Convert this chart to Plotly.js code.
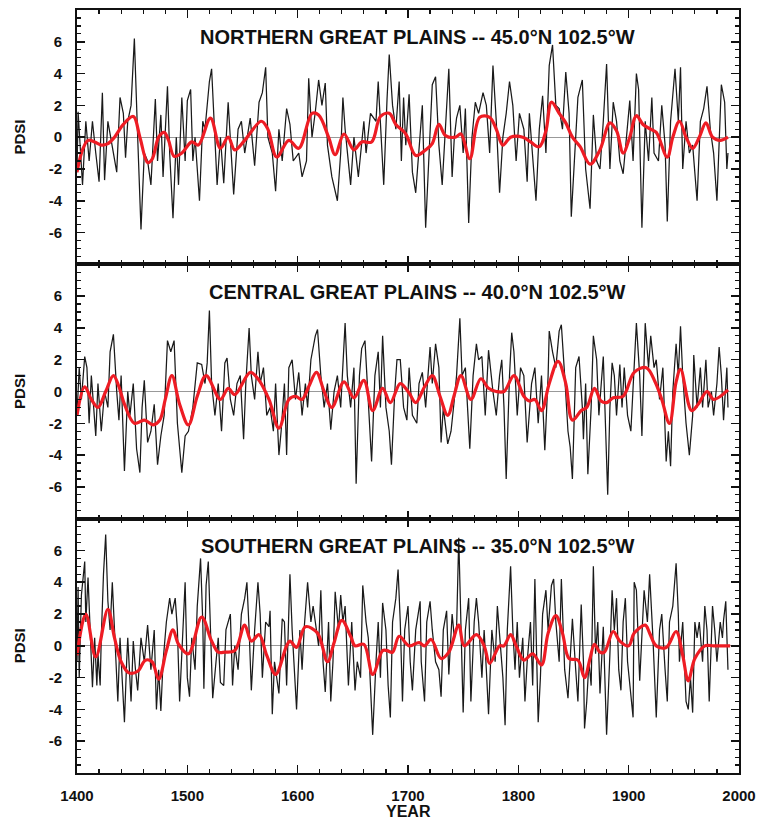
<!DOCTYPE html>
<html>
<head>
<meta charset="utf-8">
<script src="https://cdn.plot.ly/plotly-3.0.1.min.js"></script>
<style>html,body{margin:0;padding:0;background:#fff;}#chart{width:766px;height:825px;}</style>
</head>
<body>
<div id="chart"></div>
<script>
// ---------------- DATA ----------------
const panelTitles = [
  "NORTHERN GREAT PLAINS -- 45.0°N 102.5°W",
  "CENTRAL GREAT PLAINS -- 40.0°N 102.5°W",
  "SOUTHERN GREAT PLAINS -- 35.0°N 102.5°W"
];
const yTickVals = [-6, -4, -2, 0, 2, 4, 6];
const yTickText = ["-6", "-4", "-2", "0", "2", "4", "6"];
const xTickVals = [1400, 1500, 1600, 1700, 1800, 1900, 2000];
const xTickText = ["1400", "1500", "1600", "1700", "1800", "1900", "2000"];

// Northern Great Plains: annual PDSI (peaks / troughs)
const northYears = [1400,1401,1405,1408,1411,1414,1417,1420,1423,1425,1428,1433,1436,1439,1442,1444,1446,1449,1452,1455,1458,1461,1464,1467,1471,1473,1476,1478,1482,1484,1487,1490,1492,1495,1498,1500,1503,1505,1507,1511,1514,1516,1520,1522,1525,1527,1530,1533,1537,1542,1546,1549,1552,1557,1561,1565,1568,1571,1573,1577,1580,1583,1586,1590,1593,1596,1601,1604,1608,1610,1613,1616,1619,1622,1625,1627,1631,1636,1639,1641,1643,1648,1651,1655,1660,1662,1666,1671,1673,1675,1678,1681,1683,1686,1689,1692,1694,1696,1698,1701,1704,1707,1710,1713,1716,1719,1722,1725,1728,1731,1734,1737,1740,1742,1744,1747,1750,1752,1755,1758,1761,1764,1768,1771,1774,1777,1780,1783,1786,1789,1792,1795,1798,1801,1805,1808,1810,1813,1816,1819,1822,1825,1828,1831,1834,1837,1840,1843,1846,1848,1851,1854,1858,1861,1865,1868,1871,1874,1877,1880,1883,1886,1889,1892,1895,1898,1901,1904,1907,1909,1912,1915,1918,1921,1923,1927,1930,1933,1935,1938,1942,1945,1947,1949,1952,1955,1958,1962,1965,1968,1971,1974,1977,1980,1983,1984,1987,1989,1990];
const northPdsi = [-2.2,1.6,-3,1,-1.5,1,-1,-2.8,2.8,-2.7,1,-1,-2.2,2.5,1.5,-1.3,1,2,6.2,0,-5.8,-1,-1.5,-3,2.4,-1.5,1.4,-2.5,3.2,-1,-5.1,0,-3,2.5,-1.5,2.3,3,-1.5,0,-4,1,0.5,3.5,4.3,0,-3,0,-2.9,2.2,-3.6,0.5,1,-1,1.2,-1.8,2.2,2.8,4.4,0,-1,-3.4,0.5,-1.5,1.8,0.8,-1.5,-1,-2.5,-1.5,3.7,0,1.6,3.6,2,3.4,-0.5,-2.5,-4,-1,2.5,0.5,-3,0,-2.5,1,-1,1.5,1,3.5,1,-3,2.4,5.2,2,0.5,3.5,-1.5,2.5,-0.5,2.7,-2.2,-3.5,-1,2,-5.7,-1,3.3,3.8,-0.5,-3,1,4.3,-2.5,0,1.2,2,-1,1.8,-5.4,0,2.2,1.5,2.8,2,-1,4.5,1,-3.5,0,1.5,3.5,2,-1.5,1.5,0.5,-2.8,1.5,-1,-4,0.5,2.6,-1,4.5,5.8,2,1.8,0.5,4.1,1.5,-5,-1,2.5,3.6,-2,-4.5,1.4,-1.5,-2,1,4.6,-2,2.2,1,-1.5,-2.3,0,2.3,-1.5,4,3,-5.7,1,-1.5,2.5,-1,-1.5,2,-0.5,-5.3,1,4.3,1,4.4,-2,1,-1,-0.5,-4,1,1.8,3.2,0.5,-1,-4,2,3.3,2.2,-2,-1];
const northSmoothYears = [1400,1405,1410,1416,1422,1428,1434,1442,1451,1457,1464,1468,1474,1479,1483,1488,1495,1504,1510,1521,1530,1537,1543,1552,1567,1573,1581,1592,1601,1613,1619,1628,1634,1642,1651,1658,1667,1675,1683,1689,1698,1707,1716,1722,1728,1734,1743,1748,1756,1765,1774,1780,1786,1793,1804,1811,1819,1825,1830,1837,1843,1849,1856,1865,1874,1883,1889,1895,1901,1907,1913,1920,1925,1935,1940,1946,1952,1958,1964,1970,1976,1983,1990];
const northSmooth = [-2.2,-0.8,-0.2,-0.3,-0.5,-0.4,0,0.8,1.3,0,-1.6,-1.4,0,0.3,-0.2,-1.2,-1.0,-0.3,-0.5,1.2,-0.7,0,-0.8,-0.2,1.0,0.5,-1.25,-0.2,-0.7,1.5,1.4,0,-1.1,0.2,-0.8,-0.3,-0.3,1.3,1.5,0.8,0.2,-1.15,-0.8,-0.4,0.8,0.1,0,0.2,-1.35,1.25,1.25,0.5,-0.5,0,0,-0.3,-0.6,0.4,2.2,1.5,0.9,0,-0.6,-1.7,-0.8,0.9,0.4,-1.0,0,1.35,0.8,0.5,0.3,-1.25,0,1.0,0,-0.7,0,0.9,0,-0.2,0];

// Central Great Plains
const centralYears = [1400,1402,1404,1407,1409,1411,1413,1415,1417,1419,1422,1425,1428,1430,1433,1436,1438,1440,1443,1446,1448,1451,1454,1457,1459,1461,1464,1467,1470,1473,1476,1479,1482,1485,1488,1491,1495,1498,1501,1505,1509,1513,1516,1518,1520,1522,1525,1528,1531,1534,1536,1539,1542,1545,1548,1551,1553,1556,1558,1561,1564,1566,1569,1572,1575,1578,1580,1583,1585,1588,1590,1592,1595,1598,1601,1604,1607,1609,1612,1616,1618,1621,1624,1627,1630,1633,1636,1639,1643,1645,1648,1651,1653,1656,1658,1661,1664,1667,1670,1673,1675,1677,1680,1683,1685,1688,1690,1693,1696,1699,1701,1704,1708,1710,1713,1716,1720,1722,1725,1728,1730,1732,1736,1739,1742,1744,1747,1749,1752,1756,1759,1762,1764,1767,1770,1773,1777,1780,1783,1785,1787,1789,1792,1794,1796,1799,1802,1805,1808,1812,1815,1818,1821,1824,1827,1828,1831,1834,1837,1839,1842,1845,1847,1849,1852,1855,1858,1859,1861,1863,1866,1868,1871,1873,1877,1879,1881,1883,1885,1887,1889,1892,1894,1896,1899,1902,1905,1907,1910,1912,1915,1918,1920,1923,1925,1928,1931,1934,1936,1938,1940,1943,1945,1947,1949,1952,1955,1958,1959,1962,1965,1967,1970,1972,1975,1977,1980,1982,1984,1986,1989,1990];
const centralPdsi = [-1.5,1.5,-0.5,2.2,1.5,-2,1,-1,-2.8,0.5,-2.5,0,-1,2.5,3.6,0,-1.8,1,-5,0,-1.5,0.5,-3.6,-5.1,-1,0.7,-3.2,-2.5,-0.8,-4.6,-2.8,-1.5,3.2,2.5,3.2,-2,-5.1,-2.8,-2.5,-1,1.8,1.7,0.5,1.8,5.1,0.5,-1.5,0.5,-2.5,1.8,2.1,-0.5,-1.5,0.5,1,-3,0.5,4,1,-0.5,2.5,0.5,1.5,-1.5,-1,-2.5,0.5,-4,-2.5,0.5,-4,1.5,2,-0.5,1.2,-1.5,0.5,-1,2,3.5,3.9,1,-1,0.5,-2.4,0,1,-1,4.3,1,-1,1.5,-5.8,1,2.7,3.2,-1,-4.4,1,2.5,-1,3.5,-1,-2.5,-4.6,0,2,2,-1,-1.8,1.5,-1.5,-2,0.5,1.2,-1,2.8,0.5,3,1.5,-3.2,-1,-3.3,-2.5,-0.5,1,4.6,1,1.5,-3.6,1,3,2,2.2,-1.5,2.6,0,-1.5,1,2,-1,-5.5,1,3.7,2.5,-1.5,1.5,1,-3.2,0.5,1.5,-2,1,-3.7,1,3.8,2.5,1.5,3.8,4.2,1,-2.5,-3.5,-5.5,1.5,2.2,-1,-3,0.5,-5.2,-1,3.5,2,-1.5,2.2,-2,-6.5,-1,1.8,1,-1.5,1.7,-1,1.5,-1.5,-2.5,1.5,4.3,1,-2.8,4.3,1.5,3.5,1.5,2,-0.5,1.5,-4.4,-2.5,-4.7,0,3,1,4.1,1,-2,-4,-1.5,2.3,-1,1.5,-1,2,-1,0,-1.5,0.5,2.8,1,-1.8,1.5,-1];
const centralSmoothYears = [1400,1407,1413,1419,1426,1433,1438,1443,1452,1461,1469,1475,1480,1486,1493,1501,1509,1517,1530,1537,1543,1557,1564,1574,1583,1592,1598,1604,1610,1617,1624,1631,1642,1651,1660,1668,1677,1684,1693,1701,1707,1715,1722,1729,1736,1742,1748,1757,1766,1773,1780,1787,1796,1805,1810,1815,1821,1828,1836,1843,1849,1857,1862,1869,1875,1880,1886,1895,1905,1916,1924,1930,1937,1943,1947,1957,1963,1971,1977,1990];
const centralSmooth = [-1.5,0.3,-0.5,-1.0,0,1.0,0.3,-0.8,-2.0,-1.8,-2.1,-1.8,-0.5,1.0,-0.8,-2.1,-0.3,1.0,-0.5,0.2,-0.2,1.2,0.8,-0.5,-2.3,-0.5,-0.3,-0.5,0.3,1.2,0,-1.0,0.6,-0.4,0.7,-1.2,0.2,-0.7,0.5,-0.1,-0.7,0.3,1.0,-0.3,-1.5,-0.2,1.0,-0.5,0.8,0.2,0,0,1.0,-0.3,-0.6,-0.5,-1.2,0.5,1.9,0.5,-1.8,-1.2,-1.0,0.2,-0.6,-0.7,-0.4,-0.3,1.2,1.5,0.6,-0.5,-2.0,0.6,1.4,-1.2,-0.8,0,-0.5,0.1];

// Southern Great Plains
const southYears = [1400,1401,1402,1404,1407,1408,1410,1411,1413,1414,1416,1418,1419,1421,1422,1424,1426,1428,1430,1432,1434,1437,1439,1440,1443,1445,1446,1449,1451,1453,1455,1458,1461,1464,1467,1470,1472,1474,1476,1478,1481,1484,1486,1489,1491,1493,1496,1498,1500,1502,1504,1507,1509,1512,1514,1515,1517,1519,1521,1523,1526,1528,1530,1533,1535,1539,1541,1543,1546,1549,1552,1554,1556,1558,1561,1564,1566,1568,1571,1574,1575,1577,1579,1581,1583,1586,1588,1590,1593,1595,1597,1599,1602,1604,1606,1609,1612,1614,1616,1619,1621,1623,1625,1628,1630,1632,1634,1637,1639,1641,1643,1646,1649,1652,1654,1657,1659,1662,1664,1666,1668,1671,1673,1675,1677,1680,1682,1684,1686,1689,1691,1693,1695,1697,1700,1702,1704,1707,1711,1712,1715,1717,1720,1722,1725,1728,1730,1732,1735,1737,1740,1742,1744,1746,1748,1750,1752,1755,1757,1760,1762,1764,1767,1769,1771,1773,1776,1779,1781,1783,1786,1788,1790,1793,1795,1797,1799,1801,1804,1806,1808,1811,1813,1815,1818,1820,1822,1825,1827,1830,1832,1834,1837,1839,1842,1845,1847,1849,1852,1854,1857,1859,1860,1862,1864,1866,1868,1870,1872,1874,1877,1878,1880,1883,1885,1887,1889,1891,1893,1895,1897,1899,1901,1904,1905,1907,1910,1912,1914,1917,1919,1922,1923,1925,1928,1930,1933,1935,1937,1940,1943,1945,1946,1949,1952,1954,1956,1958,1960,1962,1964,1967,1969,1971,1973,1976,1978,1980,1983,1985,1986,1988,1990];
const southPdsi = [-1,3.7,-2,3.2,5.3,1.5,4.3,2.5,-1.5,-2.6,0.5,-2.5,-0.5,-2.5,0.5,4.5,7,2.8,1,4,1,-3.5,0.5,-1,-4.8,-1,0.5,-3.5,0.3,-1.5,-2.8,0.5,-1,1.3,-1.5,1,-4,-1.5,-4.1,-1,1.5,3,2,3,1,-3.5,1.5,4,-2,-3.2,0.5,-1.5,2.5,5.5,1.5,-2.7,3.8,5.3,1,-3.3,-1,0.5,-2.3,-2.5,1,2,-2.5,0,-1.5,2,3,4,1,-2.8,1,4,2,-2,1.5,1.2,2.2,-4.3,-1,-2,-3,1.7,1.5,-2.5,4.5,1,-1.5,-4,1,-1.5,1.2,4,1.5,2.5,1.5,0,3.5,-1,-2.9,1.5,-3.5,-1,3.4,1,3.2,1.5,2.5,-2.5,1.5,-2.8,-1,-2,3.8,1.5,0.5,-2.5,-5.6,-1,1.5,-2,2.7,1,-2.5,-4.5,1.5,3,4.8,1.5,-3.5,1,2.5,-1,-2.8,1,2.8,-1,-3.5,1.5,2.8,1,-1,-1.5,-3.2,1,2.2,-1.8,2,0.5,1,6.8,1.5,-4.2,1,3,-3.5,1.5,3,1.5,-2,1,-1.5,-4.3,1,-1,2.5,0.5,-2,-5,1,5,1,-1.5,1.5,-2,0.5,-3.5,-1,1.5,-2.5,4.2,-4.8,-2,2,3.5,1,3.8,4.2,1.5,-1,4.2,-1.5,-3.3,-1,1.7,-1.5,-3.5,2.6,-1,-5.2,-3.5,-1,-2.5,5,-0.5,1.5,-3,1.2,-1,-5.6,-0.5,3.5,1,3,-1.5,-2.8,1.5,3,-1,-2.5,-4.5,4,3.5,-2.2,1,3.5,1.5,4.5,0.5,-1,-4.5,1,2,-1.5,-3.5,1.5,2.5,5.2,2,-1,1.5,-3.5,-4,-2,-4.2,1.5,0.5,1.5,-1,2.5,1,-3.5,2.5,1,-1,1.5,0.5,1.6,2.8,-1.5];
const southSmoothYears = [1400,1408,1417,1428,1434,1440,1447,1455,1462,1468,1474,1481,1487,1492,1501,1513,1522,1528,1534,1543,1552,1558,1565,1572,1580,1590,1593,1599,1607,1618,1627,1633,1640,1648,1652,1660,1668,1677,1681,1686,1692,1701,1710,1715,1721,1730,1737,1746,1751,1762,1769,1774,1783,1787,1793,1798,1805,1813,1821,1827,1834,1840,1846,1854,1860,1865,1869,1874,1878,1886,1892,1900,1905,1915,1919,1925,1934,1943,1949,1954,1960,1969,1977,1992];
const southSmooth = [-0.6,2.0,-0.7,2.3,0.5,-1.0,-1.7,-1.6,-0.9,-1.0,-2.1,-0.3,1.0,0.1,-0.5,1.8,0.3,-0.4,-0.4,-0.3,1.3,0.3,0.7,-0.6,-1.8,0,0.3,-0.1,1.2,0.8,-1.0,0.2,1.6,0.6,0,0.1,-1.8,-0.3,-0.3,-0.4,0.6,0,0.2,0,0.4,-0.8,-0.4,1.3,0,0.7,0,-1.1,0,0,0.7,0,-0.9,-0.5,-1.2,0.8,1.9,0.8,-0.8,-0.9,-2.0,-0.8,0.1,-0.4,-0.4,0.9,0.3,0,0.8,1.3,0.8,0,-0.1,0.9,-0.6,-2.2,-0.8,0,0,0];

// ---------------- CHART ----------------
const FONT = "Liberation Sans, Arial, Helvetica, sans-serif";
const annual = [[northYears, northPdsi], [centralYears, centralPdsi], [southYears, southPdsi]];
const smooth = [[northSmoothYears, northSmooth], [centralSmoothYears, centralSmooth], [southSmoothYears, southSmooth]];

const traces = [];
for (let i = 0; i < 3; i++) {
  const ax = i === 0 ? '' : String(i + 1);
  traces.push({
    type: 'scatter', mode: 'lines', x: annual[i][0], y: annual[i][1],
    xaxis: 'x' + ax, yaxis: 'y' + ax,
    line: {color: '#1a1a1a', width: 1.25}, hoverinfo: 'skip', showlegend: false
  });
  traces.push({
    type: 'scatter', mode: 'lines', x: smooth[i][0], y: smooth[i][1],
    xaxis: 'x' + ax, yaxis: 'y' + ax,
    line: {color: '#ee1c24', width: 3.2, shape: 'spline', smoothing: 1}, hoverinfo: 'skip', showlegend: false
  });
}

const domains = [[2/3, 1], [1/3, 2/3], [0, 1/3]];
const layout = {
  width: 766, height: 825,
  margin: {l: 77, r: 27, t: 10, b: 52},
  paper_bgcolor: '#ffffff', plot_bgcolor: '#ffffff',
  font: {family: FONT, color: '#111'},
  showlegend: false,
  annotations: []
};
for (let i = 0; i < 3; i++) {
  const ax = i === 0 ? '' : String(i + 1);
  layout['xaxis' + ax] = {
    domain: [0, 1], anchor: 'y' + ax, range: [1400, 2000],
    tickmode: 'array', tickvals: xTickVals, ticktext: xTickText,
    showticklabels: i === 2,
    ticks: 'inside', ticklen: 8, tickwidth: 1.5, tickcolor: '#111',
    minor: {tickmode: 'linear', tick0: 1400, dtick: 20, ticks: 'inside', ticklen: 4, tickwidth: 1.2, tickcolor: '#111'},
    showline: true, linecolor: '#111', linewidth: 2, mirror: 'allticks',
    showgrid: false, zeroline: false,
    tickfont: {family: FONT, size: 15, weight: 'bold', color: '#111'},
    ticklabelstandoff: 8
  };
  if (i > 0) layout['xaxis' + ax].matches = 'x';
  layout['yaxis' + ax] = {
    domain: domains[i], anchor: 'x' + ax, range: [-8, 8],
    tickmode: 'array', tickvals: yTickVals, ticktext: yTickText,
    ticks: 'inside', ticklen: 8, tickwidth: 1.5, tickcolor: '#111',
    minor: {tickmode: 'linear', tick0: 0, dtick: 0.5, ticks: 'inside', ticklen: 4, tickwidth: 1.2, tickcolor: '#111'},
    showline: true, linecolor: '#111', linewidth: 2, mirror: 'allticks',
    showgrid: false,
    zeroline: true, zerolinecolor: '#999', zerolinewidth: 1,
    tickfont: {family: FONT, size: 15, weight: 'bold', color: '#111'},
    ticklabelstandoff: 10
  };
  const yCenter = (domains[i][0] + domains[i][1]) / 2;
  layout.annotations.push({
    text: panelTitles[i], xref: 'paper', yref: 'paper',
    x: 0.515, y: domains[i][1] - 0.036, xanchor: 'center', yanchor: 'middle',
    showarrow: false, font: {family: FONT, size: 20, weight: 'bold', color: '#111'}
  });
  layout.annotations.push({
    text: 'PDSI', xref: 'paper', yref: 'paper',
    x: -0.087, y: yCenter, xanchor: 'center', yanchor: 'middle', textangle: -90,
    showarrow: false, font: {family: FONT, size: 15, weight: 'bold', color: '#111'}
  });
}
layout.annotations.push({
  text: 'YEAR', xref: 'paper', yref: 'paper',
  x: 0.5, y: -0.051, xanchor: 'center', yanchor: 'middle',
  showarrow: false, font: {family: FONT, size: 16, weight: 'bold', color: '#111'}
});

Plotly.newPlot('chart', traces, layout, {staticPlot: true, displayModeBar: false});
</script>
</body>
</html>
